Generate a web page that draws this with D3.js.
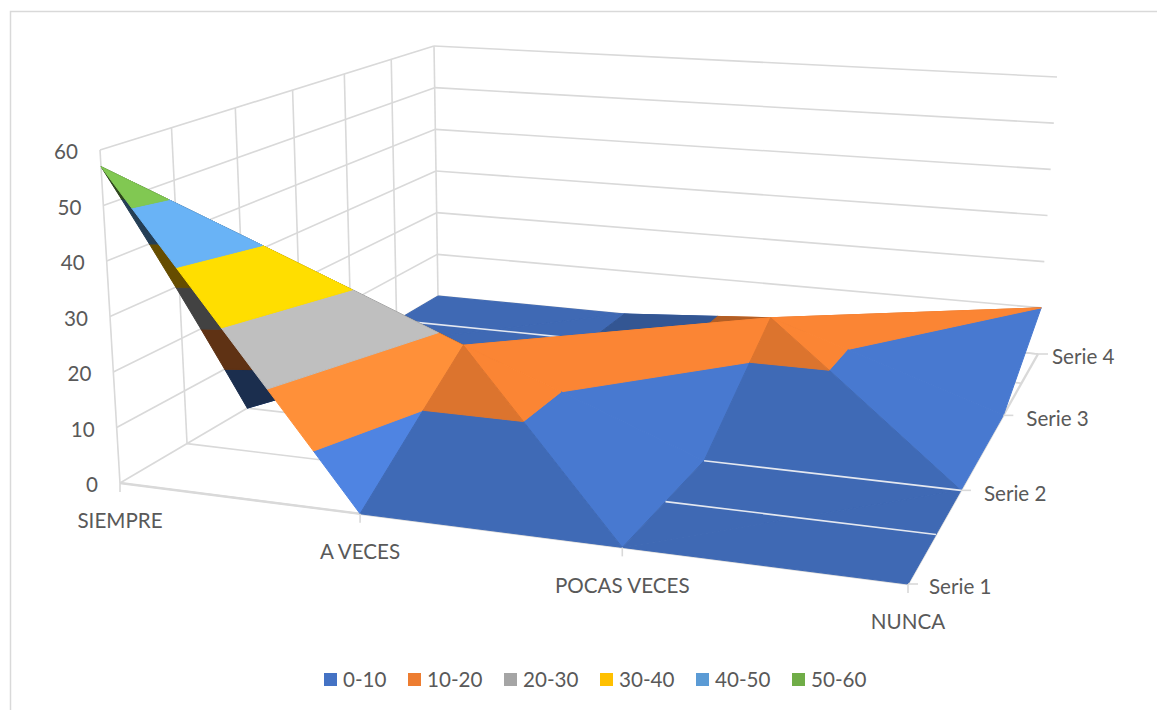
<!DOCTYPE html>
<html><head><meta charset="utf-8">
<script src="https://cdn.jsdelivr.net/npm/d3@7/dist/d3.min.js"></script>
<style>html,body{margin:0;padding:0;background:#fff}svg{display:block}text{font-family:Lato,"Open Sans",sans-serif;fill:#595959}</style>
</head><body><svg id="c" width="1157" height="710"></svg>
<script>
const categories = ["SIEMPRE","A VECES","POCAS VECES","NUNCA"];
const seriesNames = ["Serie 1","Serie 2","Serie 3","Serie 4"];
const serie1 = [57,0,0,0];
const serie2 = [0,17,0,0];
const serie3 = [0,0,15,0];
const serie4 = [0,0,0,10];
const zTicks = [0,10,20,30,40,50,60];
const bandLabels = ["0-10","10-20","20-30","30-40","40-50","50-60"];
const bandColors = ["#4472c4","#ed7d31","#a5a5a5","#ffc000","#5b9bd5","#70ad47"];
const values = [serie1,serie2,serie3,serie4];

const faceShade = {
 "0,0|1,0|1,1":1.155,"0,0|0,1|1,1":0.4,"1,0|2,0|1,1":0.93,"2,0|1,1|2,1":1.06,
 "1,1|2,1|2,2":1.06,"2,1|3,1|2,2":0.93,"3,1|2,2|3,2":1.06,"2,2|3,2|3,3":1.06,
 "1,2|2,2|1,3":0.75
};
const svg = d3.select("#c");
const uScale = d3.scaleLinear().domain([0,1,2,3]).range([0,0.328,0.662,1]);
const vScale = d3.scaleLinear().domain([0,3]).range([0,1]);
const tScale = d3.scaleLinear().domain([0,60]).range([0,1]);

function homography(p){
  const [a,b,c,d]=p;
  const dx1=b[0]-c[0],dx2=d[0]-c[0],sx=a[0]-b[0]+c[0]-d[0];
  const dy1=b[1]-c[1],dy2=d[1]-c[1],sy=a[1]-b[1]+c[1]-d[1];
  const den=dx1*dy2-dx2*dy1;
  const g=(sx*dy2-dx2*sy)/den,h=(dx1*sy-sx*dy1)/den;
  const A=b[0]-a[0]+g*b[0],B=d[0]-a[0]+h*d[0],C=a[0];
  const D=b[1]-a[1]+g*b[1],E=d[1]-a[1]+h*d[1],F=a[1];
  return (u,v)=>{const w=g*u+h*v+1;return [(A*u+B*v+C)/w,(D*u+E*v+F)/w];};
}
const floorH = homography([[120,483],[908,584],[1038,354],[438,296]]);
const topH   = homography([[100,150],[928,214],[1057,77],[434,46]]);
function project(col,ser,z){
  const u=uScale(col),v=vScale(ser),t=tScale(z);
  const f=floorH(u,v),k=topH(u,v);
  return [f[0]+(k[0]-f[0])*t,f[1]+(k[1]-f[1])*t];
}
const gridColor="#d9d9d9";
const line=d3.line();
function seg(a,b,w,c,g){(g||svg).append("path").attr("d",line([a,b])).attr("fill","none").attr("stroke",c||gridColor).attr("stroke-width",w||1.6);}

svg.append("path").attr("d","M10.5,710V11.5H1157").attr("fill","none").attr("stroke",gridColor).attr("stroke-width",1.5);

zTicks.forEach(z=>{
  seg(project(0,0,z),project(0,3,z));
  seg(project(0,3,z),project(3,3,z));
});
d3.range(0,3.01,0.5).forEach(s=>{
  seg(project(0,s,0),project(0,s,60));
  seg(project(0,s,0),project(3,s,0));
});
seg(project(0,0,0),project(3,0,0),2.4);
seg(project(3,0,0),project(3,3,0),2.4);

const faces=[];
for(let c=0;c<3;c++)for(let r=0;r<3;r++){
  const main=values[r][c]+values[r+1][c+1], anti=values[r][c+1]+values[r+1][c];
  if(main>=anti){
    faces.push([[c,r],[c+1,r],[c+1,r+1]],[[c,r],[c,r+1],[c+1,r+1]]);
  }else{
    faces.push([[c,r],[c+1,r],[c,r+1]],[[c+1,r],[c,r+1],[c+1,r+1]]);
  }
}
function shadeOf(f){
  const key=f.map(p=>p.join(",")).join("|");
  return faceShade[key]!==undefined?faceShade[key]:0.92;
}
function clip(poly,level,keepAbove){
  const out=[];
  poly.forEach((p,i)=>{
    const q=poly[(i+1)%poly.length];
    const pin=keepAbove?p.z>=level:p.z<=level, qin=keepAbove?q.z>=level:q.z<=level;
    if(pin)out.push(p);
    if(pin!==qin){const t=(level-p.z)/(q.z-p.z);out.push({x:p.x+(q.x-p.x)*t,y:p.y+(q.y-p.y)*t,z:level});}
  });
  return out;
}
function shade(col,s){const c=d3.rgb(col);return d3.rgb(Math.min(255,c.r*s),Math.min(255,c.g*s),Math.min(255,c.b*s)).formatHex();}
const ordered=faces.map(f=>({f,depth:d3.mean(f,p=>p[1])})).sort((a,b)=>b.depth-a.depth);
const surf=svg.append("g");
function drawFace(o){
  const s=shadeOf(o.f);
  const t=o.f.map(p=>({x:p[0],y:p[1],z:values[p[1]][p[0]]}));
  bandColors.forEach((col,i)=>{
    const lo=i*10,hi=(i+1)*10;
    let poly=clip(t,lo,true); if(poly.length)poly=clip(poly,hi,false);
    if(poly.length<3)return;
    const fill=shade(col,s);
    surf.append("path").attr("d",line(poly.map(p=>project(p.x,p.y,p.z)))+"Z")
      .attr("fill",fill).attr("stroke",fill).attr("stroke-width",1).attr("stroke-linejoin","round");
  });
}
ordered.filter(o=>o.depth>2).forEach(drawFace);
seg(project(0,2.5,0),project(1,2.5,0),1.6,"#e4e8f0",surf);
ordered.filter(o=>o.depth<=2).forEach(drawFace);
seg(project(2,0.5,0),project(3,0.5,0),1.6,"#e4e8f0",surf);
seg(project(2,1,0),project(3,1,0),1.6,"#e4e8f0",surf);

const fs=20.6;
categories.forEach((c,i)=>{
  const p=project(i,0,0);
  seg(p,[p[0],p[1]+9]);
  svg.append("text").attr("x",p[0]).attr("y",p[1]+38).attr("dy","0.35em").attr("text-anchor","middle").attr("font-size",fs).text(c);
});
const sOff=d3.scaleLinear().domain([0,1,2,3]).range([21,23,23,14]);
seriesNames.forEach((n,i)=>{
  const p=project(3,i,0);
  seg(p,[p[0]+10,p[1]]);
  svg.append("text").attr("x",p[0]+sOff(i)).attr("y",p[1]+3).attr("dy","0.35em").attr("font-size",fs).text(n);
});
zTicks.forEach(z=>{
  const p=project(0,0,z);
  svg.append("text").attr("x",p[0]-22).attr("y",p[1]+2).attr("dy","0.35em").attr("text-anchor","end").attr("font-size",fs).text(z);
});
const legendX=[324,408,504,600,696,792];
bandLabels.forEach((l,i)=>{
  svg.append("rect").attr("x",legendX[i]).attr("y",673).attr("width",13).attr("height",13).attr("fill",bandColors[i]);
  svg.append("text").attr("x",legendX[i]+19).attr("y",680).attr("dy","0.35em").attr("font-size",fs).text(l);
});
</script></body></html>
